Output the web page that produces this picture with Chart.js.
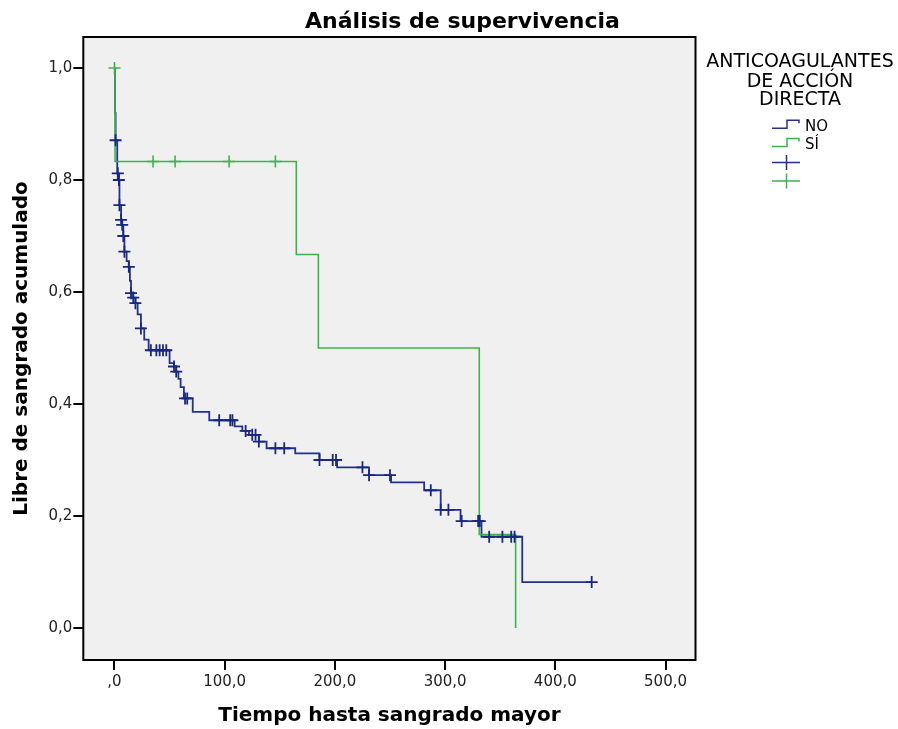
<!DOCTYPE html>
<html>
<head>
<meta charset="utf-8">
<script src="https://cdn.jsdelivr.net/npm/chart.js@4"></script>
<style>
  html, body { margin: 0; padding: 0; background: #fff; }
</style>
</head>
<body>
<canvas id="grafico" width="898" height="729"></canvas>
<script>
// textos
var titulo = 'Análisis de supervivencia';
var tituloX = 'Tiempo hasta sangrado mayor';
var tituloY = 'Libre de sangrado acumulado';
var leyendaTitulo = ['ANTICOAGULANTES', 'DE ACCIÓN', 'DIRECTA'];
var grupos = ['NO', 'SÍ'];

var ticksX = [0, 100, 200, 300, 400, 500];
var ticksY = [0, 0.2, 0.4, 0.6, 0.8, 1.0];

// grupo NO: tiempo de cada escalon y supervivencia despues del escalon
var tiempoNo = [0, 0.5, 1, 2.5, 4, 4.5, 6, 7, 8, 9, 11, 13, 14, 15, 17, 19, 21, 24, 27, 31,
  50, 54, 56, 58, 60, 63, 71, 86, 109, 116, 122, 131, 138, 164, 186, 202, 231, 251,
  281, 296, 314, 333, 370, 433];
var supervNo = [1.0, 0.92, 0.871, 0.812, 0.80, 0.755, 0.729, 0.72, 0.70, 0.672, 0.655, 0.645,
  0.62, 0.598, 0.59, 0.58, 0.56, 0.535, 0.515, 0.496, 0.473, 0.467, 0.458, 0.445, 0.43,
  0.41, 0.386, 0.371, 0.36, 0.352, 0.345, 0.333, 0.321, 0.312, 0.30, 0.287, 0.273, 0.26,
  0.246, 0.211, 0.191, 0.163, 0.082, 0.082];
// casos censurados del grupo NO
var censuraNo = [1, 3, 4, 4.5, 6, 7, 8, 9, 13, 15, 17, 19, 24, 33, 38, 41, 44, 47, 54, 56,
  64, 66, 95, 105, 107, 119, 125, 128, 131, 146, 154, 186, 198, 201, 225, 231, 250,
  287, 296, 303, 315, 330, 331.5, 340, 352, 360, 363, 433];

// grupo SÍ
var tiempoSi = [0, 0.5, 165, 185, 331, 364];
var supervSi = [1.0, 0.833, 0.667, 0.5, 0.167, 0];
var censuraSi = [0, 35, 55, 104, 146];

var azul = '#22318c';
var azulMarca = '#18277f';
var verde = '#3bb54a';

function puntos(t, s) {
  var out = [];
  for (var i = 0; i < t.length; i++) out.push({x: t[i], y: s[i]});
  return out;
}
// valor de la curva en el tiempo de cada censura
function marcas(c, t, s) {
  var out = [];
  for (var i = 0; i < c.length; i++) {
    var v = s[0];
    for (var j = 0; j < t.length; j++) { if (t[j] <= c[i]) v = s[j]; }
    out.push({x: c[i], y: v});
  }
  return out;
}
function coma(v) { return v.toFixed(1).replace('.', ','); }

Chart.defaults.font.family = "'DejaVu Sans', sans-serif";

var fondo = {
  id: 'fondo',
  beforeDraw: function(chart) {
    var c = chart.ctx, a = chart.chartArea;
    c.save();
    c.fillStyle = '#fff';
    c.fillRect(0, 0, chart.width, chart.height);
    c.fillStyle = '#f0f0f0';
    c.fillRect(a.left, a.top, a.right - a.left, a.bottom - a.top);
    c.restore();
  },
  afterDraw: function(chart) {
    var c = chart.ctx, a = chart.chartArea;
    c.save();
    c.strokeStyle = '#000';
    c.lineWidth = 2;
    c.strokeRect(a.left, a.top, a.right - a.left, a.bottom - a.top);

    c.fillStyle = '#000';
    c.font = "bold 22px 'DejaVu Sans'";
    c.textAlign = 'center';
    c.textBaseline = 'alphabetic';
    c.fillText(titulo, 462.5, 28);

    // leyenda
    c.font = "19px 'DejaVu Sans'";
    c.fillText(leyendaTitulo[0], 800, 67);
    c.fillText(leyendaTitulo[1], 800, 86.5);
    c.fillText(leyendaTitulo[2], 800, 105);

    c.lineWidth = 1.5;
    var filas = [[azul, 124.3], [verde, 142.5]];
    filas.forEach(function(f, i) {
      var y = f[1];
      c.strokeStyle = f[0];
      c.beginPath();
      c.moveTo(772, y + 4); c.lineTo(787, y + 4); c.lineTo(787, y - 4);
      c.lineTo(799, y - 4); c.lineTo(799, y - 1);
      c.stroke();
      c.fillStyle = '#000';
      c.font = "15px 'DejaVu Sans'";
      c.textAlign = 'left';
      c.fillText(grupos[i], 805, y + 6.5);
    });
    [[azul, 162.5], [verde, 181]].forEach(function(f) {
      c.strokeStyle = f[0];
      c.beginPath();
      c.moveTo(772, f[1]); c.lineTo(800, f[1]);
      c.moveTo(786.5, f[1] - 7.5); c.lineTo(786.5, f[1] + 7.5);
      c.stroke();
    });
    c.restore();
  }
};

new Chart(document.getElementById('grafico'), {
  type: 'line',
  data: {
    datasets: [
      { label: 'NO censurado', data: marcas(censuraNo, tiempoNo, supervNo), showLine: false,
        pointStyle: 'cross', pointRadius: 6, borderColor: azulMarca, borderWidth: 1.8 },
      { label: 'SÍ censurado', data: marcas(censuraSi, tiempoSi, supervSi), showLine: false,
        pointStyle: 'cross', pointRadius: 6, borderColor: verde, borderWidth: 1.6 },
      { label: 'SÍ', data: puntos(tiempoSi, supervSi), stepped: true, borderColor: verde,
        borderWidth: 1.6, pointRadius: 0, fill: false },
      { label: 'NO', data: puntos(tiempoNo, supervNo), stepped: true, borderColor: azul,
        borderWidth: 1.8, pointRadius: 0, fill: false }
    ]
  },
  options: {
    responsive: false,
    animation: false,
    devicePixelRatio: 1,
    layout: { padding: { top: 37, right: 202.5, bottom: 0, left: 0 } },
    plugins: { legend: { display: false }, tooltip: { enabled: false }, title: { display: false } },
    scales: {
      x: {
        type: 'linear', min: -28.3, max: 527.2,
        afterBuildTicks: function(s) { s.ticks = ticksX.map(function(v) { return {value: v}; }); },
        afterFit: function(s) { s.height = 69; },
        ticks: { callback: function(v) { return v === 0 ? ',0' : coma(v); },
          font: { size: 15 }, color: '#222', padding: 3, maxRotation: 0, autoSkip: false },
        grid: { drawOnChartArea: false, drawTicks: true, tickLength: 10, color: '#000', lineWidth: 2 },
        border: { display: false },
        title: { display: true, text: tituloX, color: '#000',
          font: { size: 20, weight: 'bold' }, padding: { top: 0, bottom: 1 } }
      },
      y: {
        type: 'linear', min: -0.0571, max: 1.0554,
        afterBuildTicks: function(s) { s.ticks = ticksY.map(function(v) { return {value: v}; }); },
        afterFit: function(s) { s.width = 83.3; },
        ticks: { callback: function(v) { return coma(v); },
          font: { size: 15 }, color: '#222', padding: 1, autoSkip: false },
        grid: { drawOnChartArea: false, drawTicks: true, tickLength: 10, color: '#000', lineWidth: 2 },
        border: { display: false },
        title: { display: true, text: tituloY, color: '#000',
          font: { size: 20, weight: 'bold' }, padding: { top: 10, bottom: 0 } }
      }
    }
  },
  plugins: [fondo]
});
</script>
</body>
</html>
